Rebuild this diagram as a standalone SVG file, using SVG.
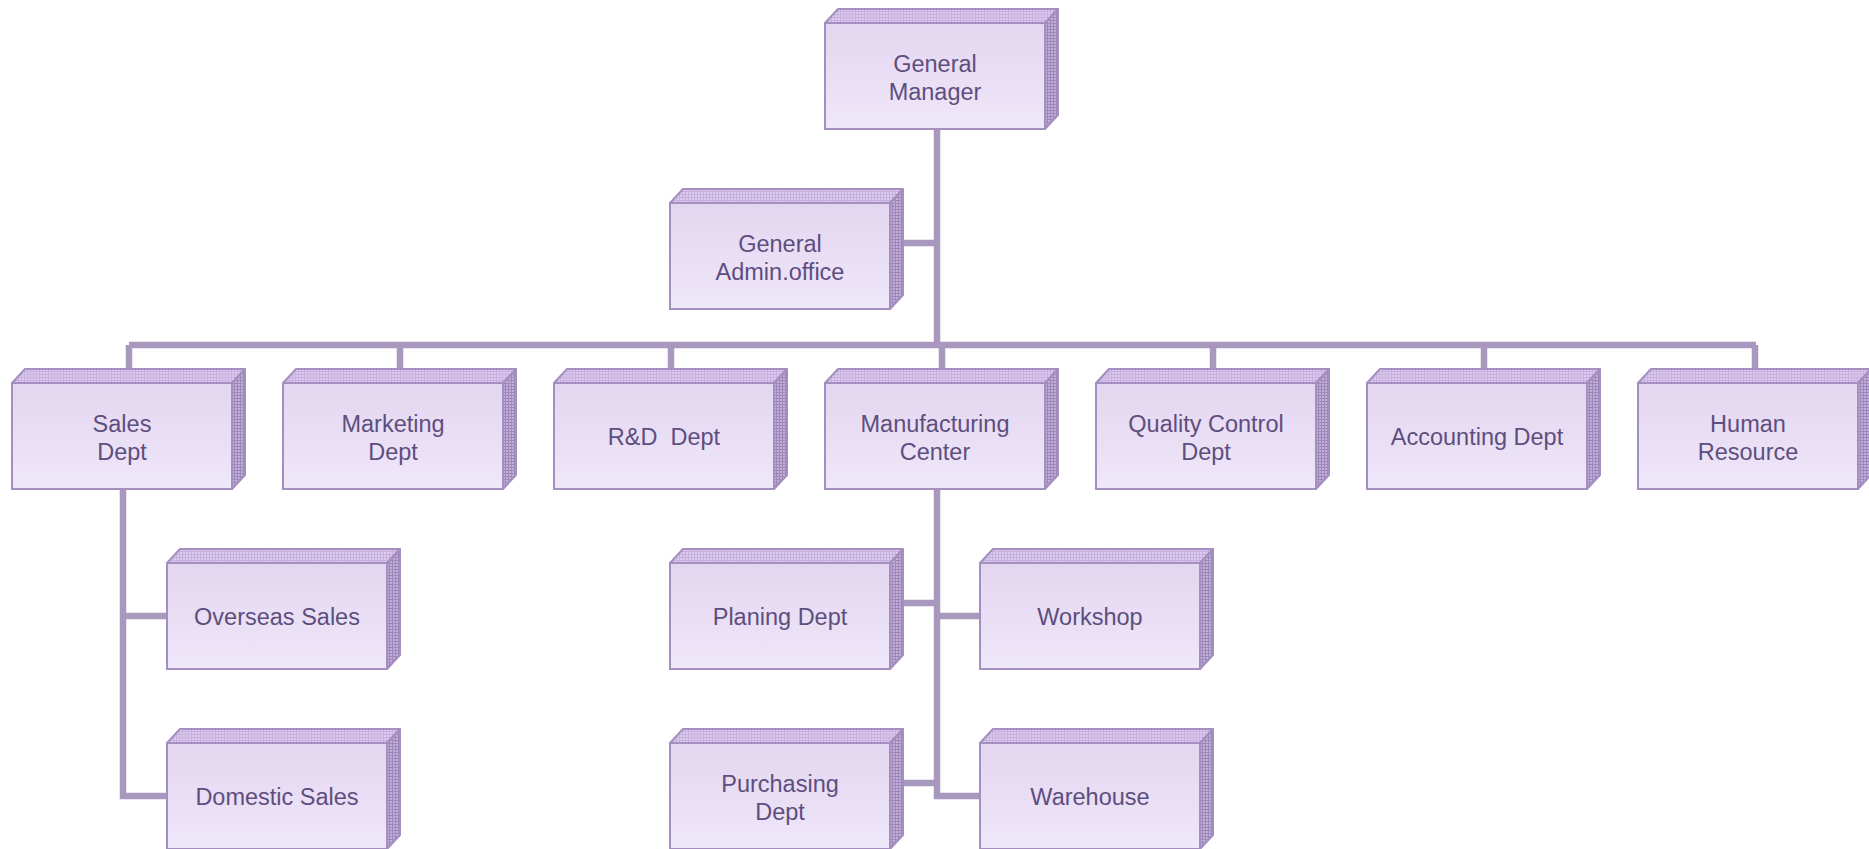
<svg xmlns="http://www.w3.org/2000/svg" xmlns:xlink="http://www.w3.org/1999/xlink" width="1869" height="849" viewBox="0 0 1869 849">
<style>
.lbl{font-family:"Liberation Sans",Arial,sans-serif;font-size:23.5px;fill:#5E4E7E;text-anchor:middle}
.con{fill:none;stroke:#A898BE;stroke-width:6.5;stroke-linecap:butt;stroke-linejoin:miter}
</style>
<defs>
<linearGradient id="gFront" x1="0" y1="0" x2="0" y2="1">
<stop offset="0" stop-color="#E3D6F0"/>
<stop offset="1" stop-color="#EFE7FA"/>
</linearGradient>
<pattern id="pTop" width="3" height="3" patternUnits="userSpaceOnUse">
<rect width="3" height="3" fill="#DCCBEE"/>
<path d="M0 0.5H3M0.5 0V3" stroke="#C6B0DE" stroke-width="1"/>
</pattern>
<pattern id="pSide" width="3" height="3" patternUnits="userSpaceOnUse">
<rect width="3" height="3" fill="#C2AEDA"/>
<path d="M0 0.5H3M0.5 0V3" stroke="#9E88B8" stroke-width="1"/>
</pattern>
<g id="box">
<polygon points="0,0 13,-14 233,-14 220,0" fill="url(#pTop)" stroke="#A48FC0" stroke-width="2" stroke-linejoin="round"/>
<polygon points="220,0 233,-14 233,92 220,106" fill="url(#pSide)" stroke="#A48FC0" stroke-width="2" stroke-linejoin="round"/>
<rect x="0" y="0" width="220" height="106" fill="url(#gFront)" stroke="#A48FC0" stroke-width="2"/>
</g>
</defs>
<rect width="1869" height="849" fill="#FFFFFF"/>
<g id="connectors">
<path class="con" d="M937 129V345"/>
<path class="con" d="M903 243H937"/>
<path class="con" d="M129 345H1756"/>
<path class="con" d="M129 345V369M400 345V369M671 345V369M942 345V369M1213 345V369M1484 345V369M1755 345V369"/>
<path class="con" d="M123 489V796H167M123 616H167"/>
<path class="con" d="M937 489V796H980M903 603H937M937 616H980M903 783H937"/>
</g>
<g id="general-manager"><use xlink:href="#box" x="825" y="23"/><text class="lbl" x="935" y="72">General</text><text class="lbl" x="935" y="100">Manager</text></g>
<g id="general-admin"><use xlink:href="#box" x="670" y="203"/><text class="lbl" x="780" y="252">General</text><text class="lbl" x="780" y="280">Admin.office</text></g>
<g id="sales"><use xlink:href="#box" x="12" y="383"/><text class="lbl" x="122" y="432">Sales</text><text class="lbl" x="122" y="460">Dept</text></g>
<g id="marketing"><use xlink:href="#box" x="283" y="383"/><text class="lbl" x="393" y="432">Marketing</text><text class="lbl" x="393" y="460">Dept</text></g>
<g id="rd"><use xlink:href="#box" x="554" y="383"/><text class="lbl" x="664" y="445" xml:space="preserve">R&amp;D  Dept</text></g>
<g id="manufacturing"><use xlink:href="#box" x="825" y="383"/><text class="lbl" x="935" y="432">Manufacturing</text><text class="lbl" x="935" y="460">Center</text></g>
<g id="quality"><use xlink:href="#box" x="1096" y="383"/><text class="lbl" x="1206" y="432">Quality Control</text><text class="lbl" x="1206" y="460">Dept</text></g>
<g id="accounting"><use xlink:href="#box" x="1367" y="383"/><text class="lbl" x="1477" y="445">Accounting Dept</text></g>
<g id="human-resource"><use xlink:href="#box" x="1638" y="383"/><text class="lbl" x="1748" y="432">Human</text><text class="lbl" x="1748" y="460">Resource</text></g>
<g id="overseas"><use xlink:href="#box" x="167" y="563"/><text class="lbl" x="277" y="625">Overseas Sales</text></g>
<g id="domestic"><use xlink:href="#box" x="167" y="743"/><text class="lbl" x="277" y="805">Domestic Sales</text></g>
<g id="planing"><use xlink:href="#box" x="670" y="563"/><text class="lbl" x="780" y="625">Planing Dept</text></g>
<g id="workshop"><use xlink:href="#box" x="980" y="563"/><text class="lbl" x="1090" y="625">Workshop</text></g>
<g id="purchasing"><use xlink:href="#box" x="670" y="743"/><text class="lbl" x="780" y="792">Purchasing</text><text class="lbl" x="780" y="820">Dept</text></g>
<g id="warehouse"><use xlink:href="#box" x="980" y="743"/><text class="lbl" x="1090" y="805">Warehouse</text></g>
</svg>
